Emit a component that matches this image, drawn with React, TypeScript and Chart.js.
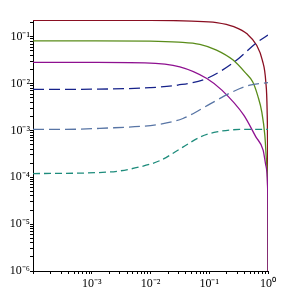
import React, { useEffect, useRef } from "react";
import { Chart, registerables } from "chart.js";

Chart.register(...registerables);

// ---- data ----
const redX = [1e-4, 1e-3, 0.01, 0.05, 0.133, 0.262, 0.445, 0.637, 0.8, 0.918, 0.966, 0.984, 0.9995];
const redY = [0.225, 0.225, 0.224, 0.216, 0.201, 0.164, 0.114, 0.0665, 0.0318, 0.0108, 0.0027, 0.00038, 5e-7];

const greenX = [1e-4, 1e-3, 0.0098, 0.03, 0.0692, 0.133, 0.255, 0.403, 0.551, 0.672, 0.785, 0.883, 0.955, 0.992, 0.9995];
const greenY = [0.082, 0.082, 0.081, 0.077, 0.0689, 0.052, 0.0318, 0.0176, 0.0108, 0.0054, 0.00246, 0.00079, 0.00018, 0.000032, 5e-7];

const purpleX = [1e-4, 1e-3, 0.008, 0.0316, 0.091, 0.164, 0.387, 0.621, 0.826, 0.918, 0.982, 0.995, 0.9995];
const purpleY = [0.0285, 0.0284, 0.0278, 0.0229, 0.0129, 0.00726, 0.00212, 0.00073, 0.00038, 0.00018, 0.000068, 0.000012, 5e-7];

const navyX = [1e-4, 1e-3, 0.0098, 0.0292, 0.091, 0.272, 0.646, 1];
const navyY = [0.0075, 0.0076, 0.0082, 0.0093, 0.0129, 0.0295, 0.0752, 0.109];

const slateX = [1e-4, 2.88e-4, 0.00138, 0.01445, 0.0356, 0.102, 0.224, 0.49, 1];
const slateY = [0.00105, 0.00105, 0.00111, 0.00136, 0.0018, 0.00365, 0.00627, 0.00929, 0.0105];

const tealX = [1e-4, 0.00204, 0.00661, 0.01445, 0.0356, 0.0692, 0.1345, 0.331, 1];
const tealY = [0.00012, 0.00013, 0.000167, 0.000227, 0.00044, 0.00072, 0.00093, 0.00105, 0.00106];

// ---- ticks ----
const xMin = 1e-4;
const xMax = 1;
const yMin = 1e-6;
const yMax = 0.228;
const xLabelExps = [-3, -2, -1, 0];
const yLabelExps = [-6, -5, -4, -3, -2, -1];
const minorMultipliers = [1, 2, 3, 4, 5, 6, 7, 8, 9];

const SUP: Record<string, string> = {
  "-": "\u207B", "0": "\u2070", "1": "\u00B9", "2": "\u00B2", "3": "\u00B3",
  "4": "\u2074", "5": "\u2075", "6": "\u2076", "7": "\u2077", "8": "\u2078", "9": "\u2079",
};
const sup = (n: number) => String(n).split("").map((c) => SUP[c] || c).join("");

function logTicks(min: number, max: number) {
  const out: { value: number }[] = [];
  const e0 = Math.floor(Math.log10(min) + 1e-9);
  const e1 = Math.ceil(Math.log10(max) - 1e-9);
  for (let e = e0; e <= e1; e++) {
    for (const m of minorMultipliers) {
      const v = m * Math.pow(10, e);
      if (v >= min * (1 - 1e-9) && v <= max * (1 + 1e-9)) out.push({ value: v });
    }
  }
  return out;
}

function labelFor(value: number, exps: number[]) {
  const l = Math.log10(value);
  const r = Math.round(l);
  if (Math.abs(l - r) < 1e-6 && exps.includes(r)) return "10" + sup(r);
  return "";
}

const pts = (xs: number[], ys: number[]) => xs.map((x, i) => ({ x, y: ys[i] }));

export default function App() {
  const ref = useRef<HTMLCanvasElement | null>(null);

  useEffect(() => {
    if (!ref.current) return;
    const font = { family: "'Liberation Serif', 'Times New Roman', serif", size: 12 };
    const common = {
      pointRadius: 0,
      borderWidth: 1.3,
      fill: false,
      cubicInterpolationMode: "monotone" as const,
    };
    const chart = new Chart(ref.current, {
      type: "line",
      data: {
        datasets: [
          { ...common, label: "a", data: pts(tealX, tealY), borderColor: "#1E8C7C", borderDash: [7, 4] },
          { ...common, label: "b", data: pts(slateX, slateY), borderColor: "#5875A5", borderDash: [11, 5] },
          { ...common, label: "c", data: pts(navyX, navyY), borderColor: "#16228A", borderDash: [11, 5] },
          { ...common, label: "d", data: pts(purpleX, purpleY), borderColor: "#8E1090" },
          { ...common, label: "e", data: pts(greenX, greenY), borderColor: "#5A8C1A" },
          { ...common, label: "f", data: pts(redX, redY), borderColor: "#8A0F22" },
        ],
      },
      options: {
        responsive: false,
        animation: false,
        layout: { padding: { left: 0, right: 27, top: 20, bottom: 0 } },
        plugins: { legend: { display: false }, tooltip: { enabled: false } },
        scales: {
          x: {
            type: "logarithmic",
            min: xMin,
            max: xMax,
            position: "bottom",
            grid: { drawOnChartArea: false, drawTicks: true, tickLength: 3, tickColor: "#000" },
            border: { color: "#000", width: 1 },
            ticks: {
              autoSkip: false,
              maxRotation: 0,
              padding: 3,
              color: "#000",
              font,
              callback: (v: any) => labelFor(Number(v), xLabelExps),
            },
            afterBuildTicks: (scale: any) => {
              scale.ticks = logTicks(xMin, xMax);
            },
            afterFit: (scale: any) => {
              scale.height = 30;
            },
          },
          y: {
            type: "logarithmic",
            min: yMin,
            max: yMax,
            position: "left",
            grid: { drawOnChartArea: false, drawTicks: true, tickLength: 3, tickColor: "#000" },
            border: { color: "#000", width: 1 },
            ticks: {
              autoSkip: false,
              padding: 0,
              color: "#000",
              font,
              callback: (v: any) => labelFor(Number(v), yLabelExps),
            },
            afterBuildTicks: (scale: any) => {
              scale.ticks = logTicks(yMin, yMax);
            },
            afterFit: (scale: any) => {
              scale.width = 33;
            },
          },
        },
      },
    });
    return () => chart.destroy();
  }, []);

  return (
    <canvas
      ref={ref}
      width={295}
      height={301}
      style={{ position: "absolute", left: 0, top: 0, width: 295, height: 301, background: "#fff" }}
    />
  );
}
